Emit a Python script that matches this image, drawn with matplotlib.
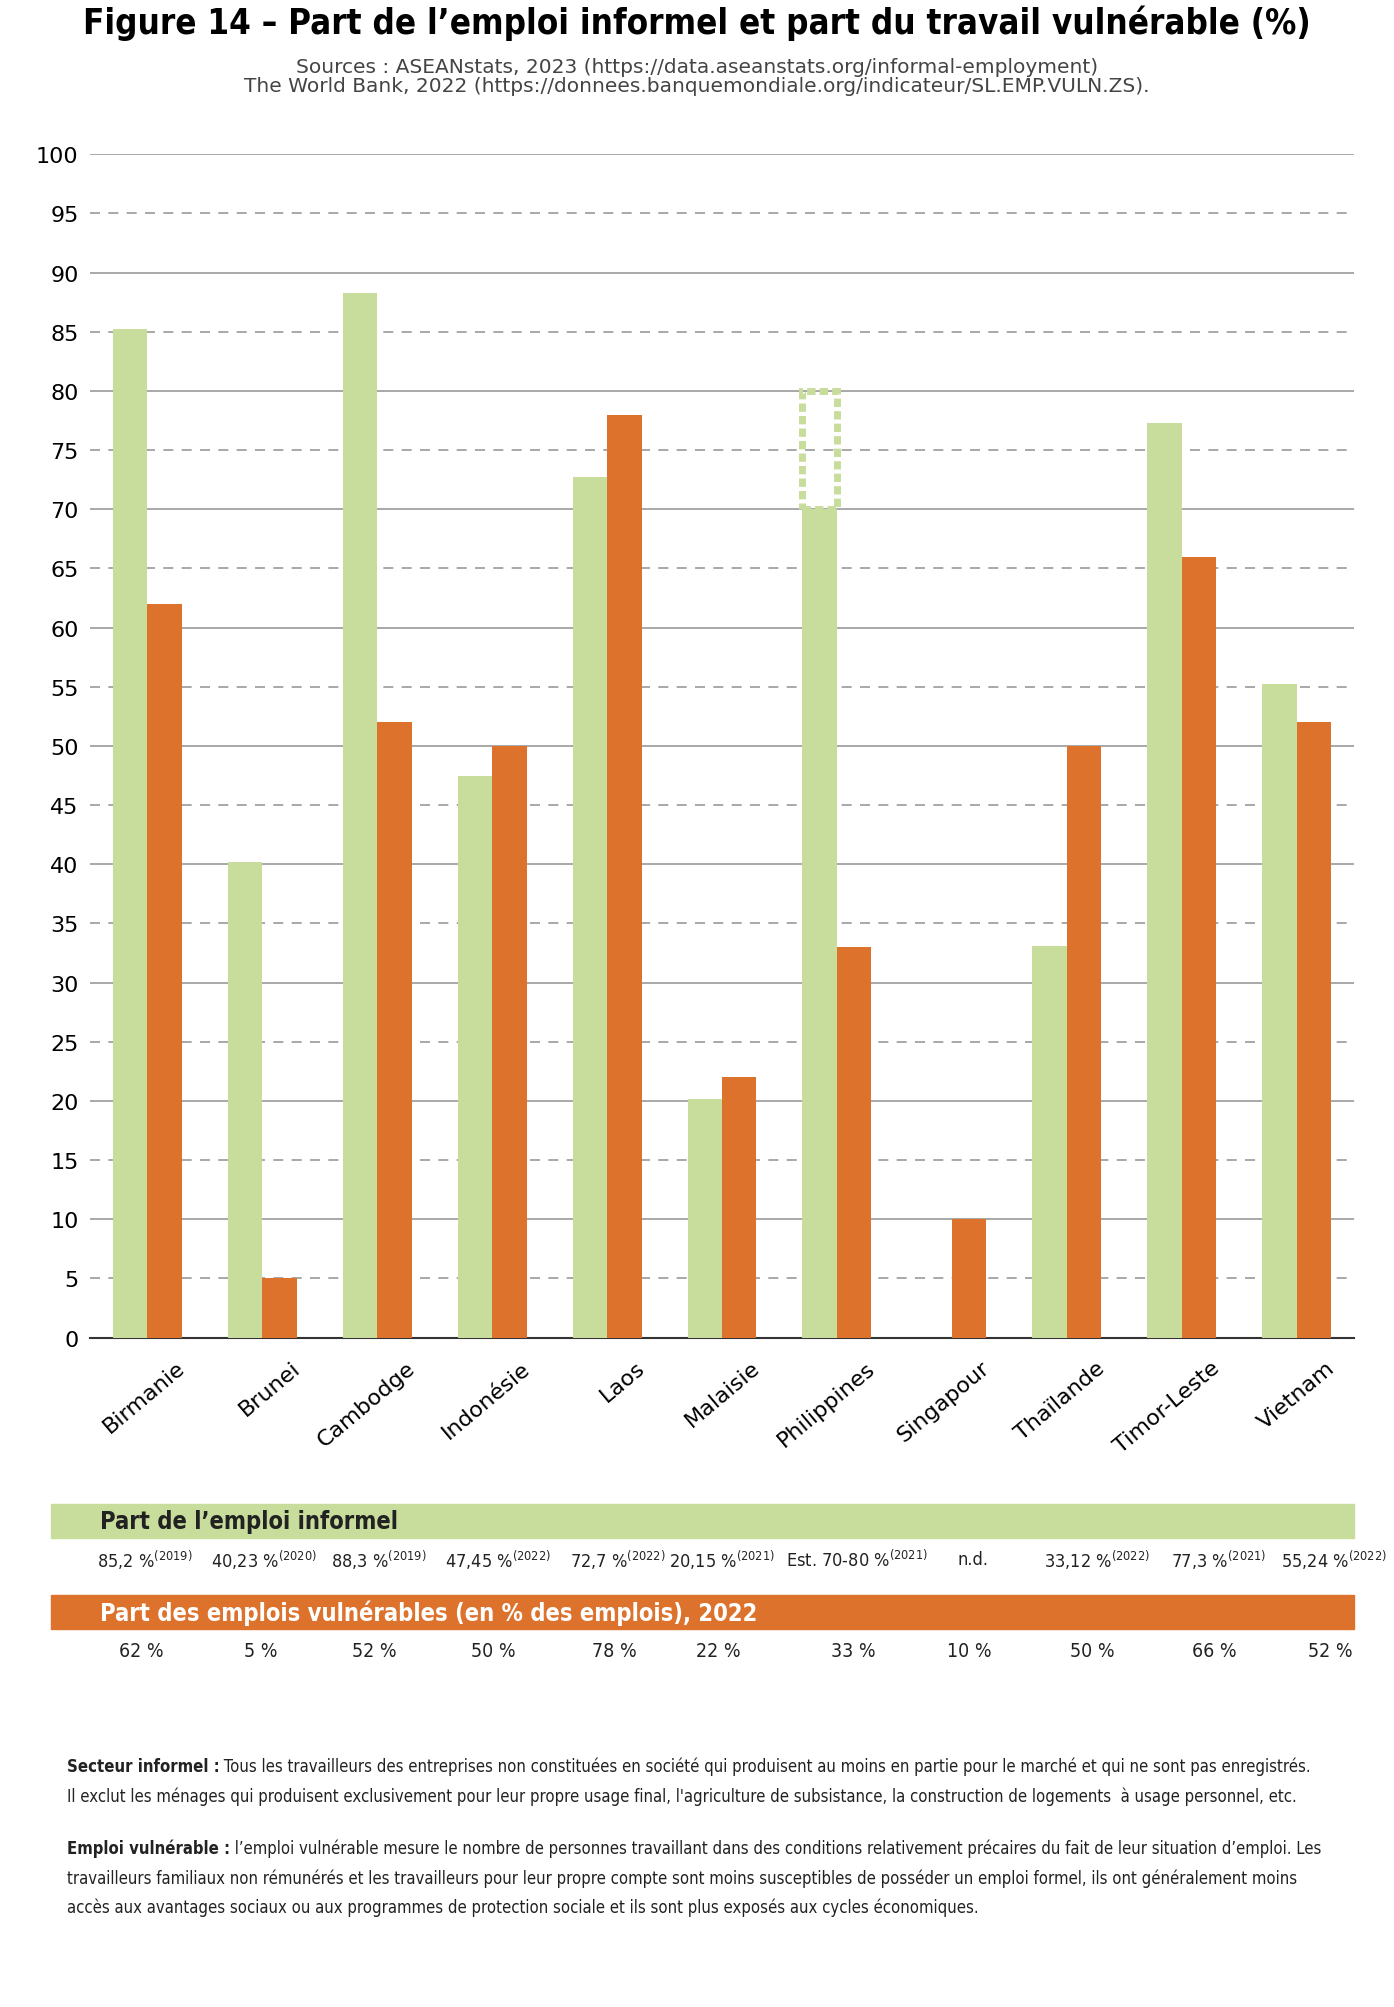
import numpy as np
import matplotlib.pyplot as plt
from matplotlib.patches import Rectangle

pays = ["Birmanie", "Brunei", "Cambodge", "Indonésie", "Laos", "Malaisie",
        "Philippines", "Singapour", "Thaïlande", "Timor-Leste", "Vietnam"]
informel = [85.2, 40.23, 88.3, 47.45, 72.7, 20.15, 70, 0, 33.12, 77.3, 55.24]
vulnerable = [62, 5, 52, 50, 78, 22, 33, 10, 50, 66, 52]
philippines_haut = 80

lab_informel = ["85,2 %", "40,23 %", "88,3 %", "47,45 %", "72,7 %", "20,15 %",
                "Est. 70-80 %", "n.d.", "33,12 %", "77,3 %", "55,24 %"]
annees = ["2019", "2020", "2019", "2022", "2022", "2021", "2021", "", "2022", "2021", "2022"]
lab_vuln = ["62 %", "5 %", "52 %", "50 %", "78 %", "22 %", "33 %", "10 %", "50 %", "66 %", "52 %"]

VERT = "#c8dd9b"
ORANGE = "#dd722c"
FONT = dict(family="DejaVu Sans", stretch="condensed")

fig = plt.figure(figsize=(13.94, 20.08), dpi=100)
W, H = 1087, 1566  # repere de la maquette


def fx(x):
    return x / W


def fy(y):
    return 1 - y / H


ax = fig.add_axes([fx(70), fy(1044), fx(1056) - fx(70), fy(121) - fy(1044)])
x = np.arange(len(pays))
bw = 0.3
ax.bar(x - bw / 2, informel, bw, color=VERT, zorder=3)
ax.bar(x + bw / 2, vulnerable, bw, color=ORANGE, zorder=3)
i = pays.index("Philippines")
ax.add_patch(Rectangle((i - bw, informel[i]), bw, philippines_haut - informel[i],
                       fill=False, ec=VERT, lw=5, ls=(0, (1.2, 0.6)), zorder=3))

ax.set_xlim(-0.5, len(pays) - 0.5)
ax.set_ylim(0, 100)
ax.set_yticks(range(0, 101, 5))
ax.tick_params(axis="y", length=0, labelsize=16, pad=8)
for v in range(5, 101, 5):
    if v % 10 == 0:
        ax.axhline(v, color="#999999", lw=1.2, zorder=1)
    else:
        ax.axhline(v, color="#999999", lw=1.2, ls=(0, (6, 5)), zorder=1)
for s in ["top", "right", "left"]:
    ax.spines[s].set_visible(False)
ax.spines["bottom"].set_color("#333333")
ax.spines["bottom"].set_linewidth(1.5)
ax.set_xticks(x + 0.25)
ax.set_xticklabels(pays, rotation=40, ha="right", rotation_mode="anchor",
                   fontsize=16, family="DejaVu Sans")
ax.tick_params(axis="x", length=0, pad=14)

fig.text(0.5, fy(18), "Figure 14 – Part de l’emploi informel et part du travail vulnérable (%)",
         ha="center", va="center", fontsize=25, weight="bold", **FONT)
fig.text(0.5, fy(60), "Sources : ASEANstats, 2023 (https://data.aseanstats.org/informal-employment)\n"
         "The World Bank, 2022 (https://donnees.banquemondiale.org/indicateur/SL.EMP.VULN.ZS).",
         ha="center", va="center", fontsize=14.5, color="#444444", linespacing=1.0)

# bandeaux du tableau
fig.patches.append(Rectangle((fx(40), fy(1200)), fx(1056) - fx(40), fy(1174) - fy(1200),
                             transform=fig.transFigure, color=VERT))
fig.patches.append(Rectangle((fx(40), fy(1271)), fx(1056) - fx(40), fy(1245) - fy(1271),
                             transform=fig.transFigure, color=ORANGE))
fig.text(fx(78), fy(1187), "Part de l’emploi informel", va="center", fontsize=17,
         weight="bold", color="#222222", **FONT)
fig.text(fx(78), fy(1258), "Part des emplois vulnérables (en % des emplois), 2022", va="center",
         fontsize=17, weight="bold", color="white", **FONT)

xpos = [113, 206, 295, 388, 482, 563, 668, 759, 855, 950, 1040]
for k in range(len(pays)):
    txt = lab_informel[k] + (r"$^{\mathregular{(" + annees[k] + ")}}$" if annees[k] else "")
    fig.text(fx(xpos[k]), fy(1217), txt, ha="center", va="center", fontsize=13,
             color="#222222", **FONT)
    fig.text(fx(xpos[k] - 3), fy(1288), lab_vuln[k], ha="center", va="center",
             fontsize=14, color="#222222", **FONT)

notes = [
    (1378, "Secteur informel :", " Tous les travailleurs des entreprises non constituées en société qui produisent au moins en partie pour le marché et qui ne sont pas enregistrés."),
    (1401, "", "Il exclut les ménages qui produisent exclusivement pour leur propre usage final, l'agriculture de subsistance, la construction de logements  à usage personnel, etc."),
    (1442, "Emploi vulnérable :", " l’emploi vulnérable mesure le nombre de personnes travaillant dans des conditions relativement précaires du fait de leur situation d’emploi. Les"),
    (1465, "", "travailleurs familiaux non rémunérés et les travailleurs pour leur propre compte sont moins susceptibles de posséder un emploi formel, ils ont généralement moins"),
    (1488, "", "accès aux avantages sociaux ou aux programmes de protection sociale et ils sont plus exposés aux cycles économiques."),
]
for y, gras, reste in notes:
    t = fig.text(fx(52), fy(y), gras, va="center", fontsize=12, weight="bold", color="#222222", **FONT)
    if gras:
        fig.canvas.draw()
        bb = t.get_window_extent()
        x0 = bb.x1 / fig.bbox.width
    else:
        x0 = fx(52)
    fig.text(x0, fy(y), reste, va="center", fontsize=12, color="#222222", **FONT)

fig.savefig("out.png", dpi=100, facecolor="white")
